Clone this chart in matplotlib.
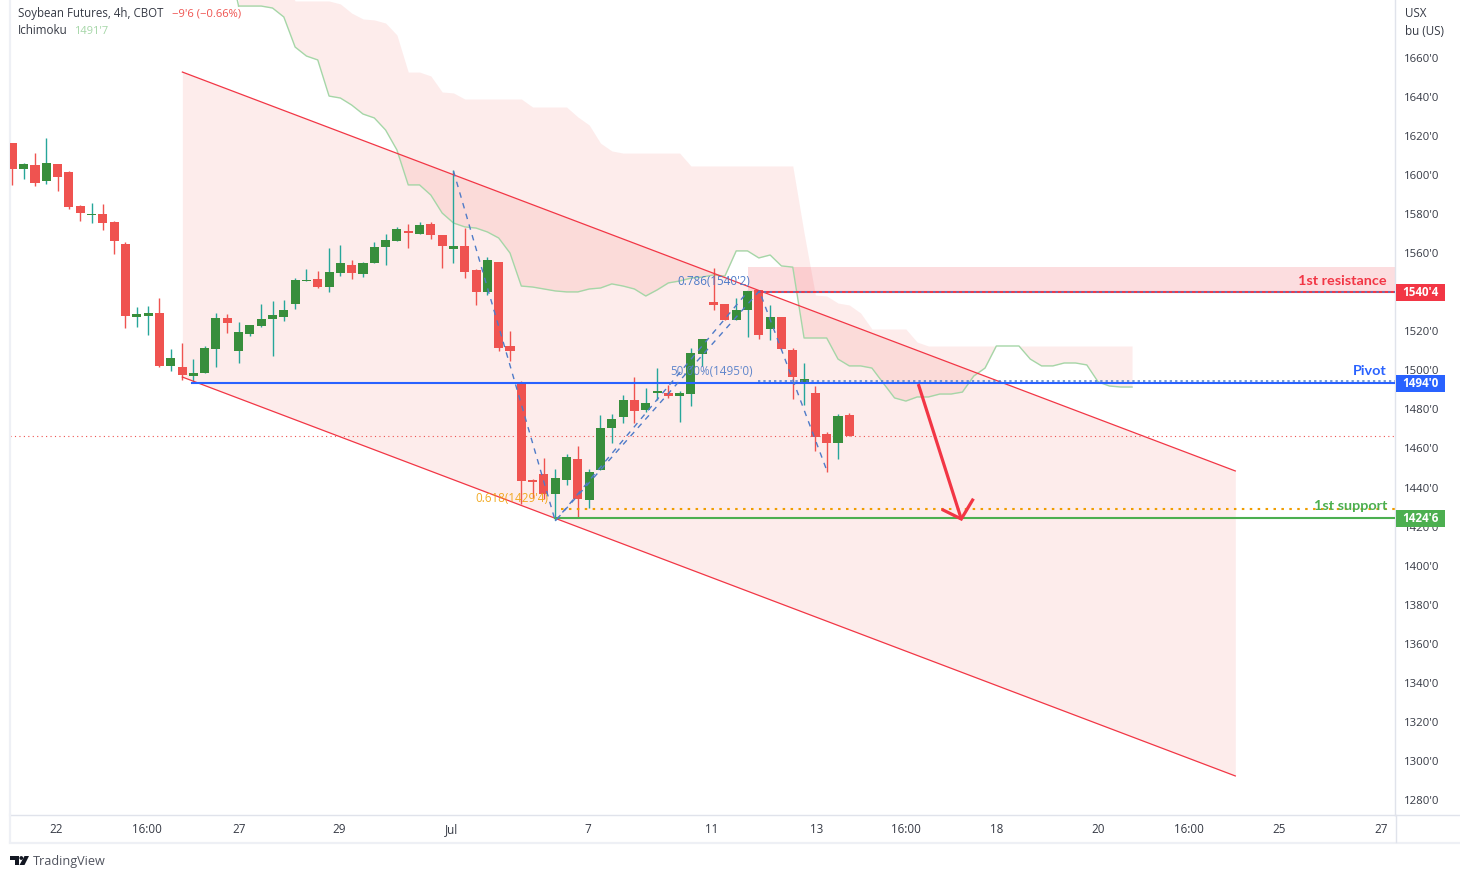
import matplotlib
matplotlib.use('Agg')
import matplotlib.pyplot as plt
from matplotlib.patches import Polygon, Circle, Rectangle
from matplotlib.transforms import blended_transform_factory, ScaledTranslation
import numpy as np

plt.rcParams['font.family'] = ['Open Sans', 'DejaVu Sans']

# candles (bar index = position in the list)
opens = [1617.0, 1603.6, 1605.7, 1597.5, 1606.2, 1602.1, 1584.7, 1580.1, 1580.6, 1576.5,
         1565.2, 1527.8, 1528.4, 1529.9, 1502.8, 1502.2, 1497.6, 1499.2, 1511.5, 1527.3,
         1510.4, 1519.1, 1523.2, 1526.8, 1527.8, 1534.5, 1546.3, 1547.3, 1543.2, 1550.4,
         1554.5, 1549.9, 1555.5, 1563.7, 1566.8, 1571.9, 1570.4, 1575.5, 1569.8, 1562.7,
         1564.2, 1551.9, 1540.7, 1556.0, 1513.0, 1494.0, 1444.4, 1447.4, 1437.2, 1444.4,
         1455.1, 1434.1, 1449.5, 1471.0, 1476.6, 1485.3, 1480.2, 1488.9, 1488.9, 1487.4,
         1488.4, 1508.9, 1535.5, 1534.5, 1526.3, 1531.4, 1541.7, 1521.7, 1527.8, 1511.0,
         1494.6, 1488.9, 1467.9, 1463.3, 1477.7]
highs = [1617.0, 1606.7, 1611.8, 1619.5, 1606.2, 1602.6, 1585.2, 1586.2, 1585.7, 1577.0,
         1566.3, 1533.0, 1533.5, 1537.6, 1511.5, 1514.5, 1506.3, 1513.0, 1529.9, 1529.4,
         1525.3, 1523.8, 1534.5, 1536.0, 1536.6, 1547.8, 1552.4, 1551.4, 1563.2, 1564.7,
         1557.0, 1556.0, 1566.3, 1570.4, 1573.9, 1575.5, 1576.5, 1576.5, 1569.8, 1603.1,
         1573.4, 1552.4, 1558.6, 1556.0, 1520.7, 1495.1, 1444.9, 1455.6, 1450.0, 1457.7,
         1461.8, 1450.0, 1477.7, 1478.2, 1487.9, 1497.1, 1491.5, 1501.7, 1493.0, 1490.0,
         1512.0, 1516.6, 1553.0, 1534.5, 1537.6, 1541.2, 1541.7, 1534.0, 1527.8, 1512.0,
         1504.3, 1492.5, 1469.0, 1478.2, 1478.7]
lows = [1595.4, 1598.5, 1594.9, 1596.0, 1592.4, 1583.2, 1577.0, 1576.0, 1572.4, 1560.1,
        1522.2, 1522.7, 1518.6, 1502.2, 1500.2, 1495.6, 1494.6, 1499.2, 1502.2, 1519.7,
        1504.3, 1518.1, 1522.7, 1507.9, 1525.8, 1532.0, 1546.3, 1542.7, 1540.7, 1548.8,
        1547.3, 1548.3, 1555.5, 1554.5, 1566.8, 1563.2, 1570.4, 1567.8, 1553.0, 1555.5,
        1547.8, 1534.0, 1539.1, 1510.4, 1505.3, 1432.1, 1435.2, 1434.6, 1423.9, 1441.8,
        1425.4, 1430.0, 1449.5, 1463.3, 1473.6, 1473.6, 1479.2, 1485.3, 1486.4, 1474.1,
        1482.3, 1502.8, 1531.4, 1526.3, 1526.3, 1517.6, 1516.6, 1516.1, 1511.5, 1485.9,
        1482.8, 1459.2, 1448.5, 1455.1, 1466.9]
closes = [1603.6, 1606.2, 1596.5, 1606.7, 1599.6, 1584.2, 1581.1, 1580.6, 1576.0, 1566.8,
          1528.4, 1529.4, 1529.9, 1502.8, 1506.8, 1498.1, 1499.2, 1512.0, 1527.3, 1524.8,
          1520.2, 1523.8, 1526.8, 1528.9, 1531.4, 1546.8, 1546.8, 1543.2, 1550.9, 1555.5,
          1550.4, 1555.5, 1563.7, 1567.3, 1572.9, 1570.9, 1575.0, 1569.8, 1564.2, 1564.2,
          1550.9, 1540.7, 1557.0, 1512.0, 1510.4, 1443.9, 1443.4, 1437.2, 1445.4, 1456.1,
          1434.6, 1448.5, 1471.0, 1475.6, 1485.3, 1479.7, 1483.8, 1490.0, 1487.4, 1488.9,
          1509.4, 1516.6, 1534.0, 1526.3, 1531.4, 1541.2, 1518.6, 1527.8, 1511.5, 1497.1,
          1496.1, 1466.4, 1463.3, 1477.1, 1466.9]

# ichimoku, bars 20 to 99
cloud_x = list(range(20, 100))
cloud_line = [1687.1, 1687.1, 1687.1, 1686.1, 1681.5, 1666.1, 1661.5, 1659.5, 1641.0, 1640.0,
              1636.4, 1631.8, 1629.8, 1623.6, 1613.4, 1595.5, 1595.5, 1590.3, 1581.1, 1576.0,
              1574.0, 1573.4, 1571.4, 1568.3, 1560.6, 1543.7, 1543.2, 1542.2, 1541.2, 1540.7,
              1540.7, 1542.2, 1542.7, 1544.8, 1543.7, 1542.2, 1538.6, 1541.7, 1545.3, 1546.3,
              1547.8, 1548.3, 1549.4, 1548.8, 1561.7, 1561.7, 1558.1, 1559.6, 1554.0, 1553.4,
              1517.1, 1517.1, 1517.1, 1506.3, 1502.8, 1502.8, 1501.7, 1494.0, 1486.4, 1484.8,
              1486.9, 1486.9, 1488.4, 1488.4, 1489.4, 1497.6, 1501.7, 1513.0, 1513.0, 1513.0,
              1506.3, 1502.8, 1502.8, 1504.3, 1504.3, 1503.3, 1494.6, 1492.5, 1492.0, 1492.0]
cloud_top = [1700.4, 1700.4, 1700.4, 1700.4, 1700.4, 1689.7, 1689.7, 1689.7, 1689.7, 1688.2,
             1683.5, 1680.5, 1680.0, 1678.4, 1672.3, 1653.3, 1653.3, 1651.3, 1643.1, 1642.6,
             1639.5, 1639.5, 1639.5, 1639.5, 1639.5, 1639.5, 1635.4, 1635.4, 1635.4, 1635.4,
             1630.3, 1626.2, 1616.9, 1612.9, 1611.8, 1611.8, 1611.8, 1611.8, 1611.8, 1611.8,
             1605.2, 1605.2, 1605.2, 1605.2, 1605.2, 1605.2, 1605.2, 1605.2, 1605.2, 1605.2,
             1570.9, 1539.1, 1538.6, 1535.0, 1534.0, 1529.9, 1521.7, 1521.7, 1521.7, 1521.7,
             1515.0, 1513.0, 1513.0, 1513.0, 1513.0, 1513.0, 1513.0, 1513.0, 1513.0, 1513.0,
             1513.0, 1513.0, 1513.0, 1513.0, 1513.0, 1513.0, 1513.0, 1513.0, 1513.0, 1513.0]

# drawings: channel, levels, zigzag, arrow
channel_x = [15.03, 108.13]
channel_upper = [1653.3, 1449.0]
channel_lower = [1497.1, 1292.8]
resistance = 1540.5
resistance_top = 1553.4
pivot = 1494.0
support = 1424.75
fib_50 = 1495.0
fib_618 = 1429.5
last_price = 1466.9
zigzag_a_x = [39.0, 48.0, 66.05, 72.06]
zigzag_a_y = [1602.6, 1423.4, 1541.2, 1448.5]
zigzag_b_x = [48.0, 65.07]
zigzag_b_y = [1423.4, 1541.2]
arrow_x = [80.1, 83.9]
arrow_y = [1493.5, 1424.4]
arrow_head_x = [82.3, 83.9, 84.9]
arrow_head_y = [1429.0, 1424.4, 1434.1]

yticks = list(range(1280, 1661, 20))
ytick_labels = [f"{v}'0" for v in yticks]
xticks = [3.9, 11.9, 20.0, 28.9, 38.8, 50.9, 61.8, 71.1, 79.0, 87.0, 96.0, 104.0, 112.0, 121.0]
xtick_labels = ['22', '16:00', '27', '29', 'Jul', '7', '11', '13', '16:00', '18', '20', '16:00', '25', '27']

UP = '#388e3c'
UP_WICK = '#26a69a'
DOWN = '#ef5350'
RED = '#f23645'
BLUE = '#2962ff'
GREEN = '#4caf50'
ORANGE = '#f09d00'
FIB_BLUE = '#4f7bc8'
TEXT = '#363a45'
BORDER = '#e0e3eb'

W, H = 1460, 877
fig = plt.figure(figsize=(W / 100, H / 100), dpi=100)
ax = fig.add_axes([10 / W, (H - 815) / H, 1385 / W, 815 / H])
ax.set_xlim(-0.212, 122.25)
ax.set_ylim(1272.8, 1690.2)

# fills
ax.fill_between(channel_x, channel_lower, channel_upper, color=DOWN, alpha=0.11, lw=0, zorder=1)
ax.fill_between(cloud_x, cloud_line, cloud_top, color=DOWN, alpha=0.11, lw=0, zorder=1)
ax.add_patch(Rectangle((65.0, resistance), 122.25 - 65.0, resistance_top - resistance,
                       color=RED, alpha=0.17, lw=0, zorder=1))

ax.plot(cloud_x, cloud_line, color='#a5d6a7', lw=1.0, zorder=2)
ax.plot([19, 20], [1713, cloud_line[0]], color='#a5d6a7', lw=1.0, zorder=2)

# last price
ax.axhline(last_price, color=DOWN, lw=0.8, ls=(0, (1, 3)), zorder=2)

# candles
idx = np.arange(len(opens))
o = np.array(opens)
c = np.array(closes)
up = c >= o
ax.vlines(idx[up], np.array(lows)[up], np.array(highs)[up], color=UP_WICK, lw=1.0, zorder=3)
ax.vlines(idx[~up], np.array(lows)[~up], np.array(highs)[~up], color=DOWN, lw=1.0, zorder=3)
ax.bar(idx[up], np.maximum(c - o, 0.5)[up], bottom=o[up], width=0.8, color=UP, zorder=4)
ax.bar(idx[~up], (o - c)[~up], bottom=c[~up], width=0.8, color=DOWN, zorder=4)

# channel borders
ax.plot(channel_x, channel_upper, color=RED, lw=0.9, zorder=5)
ax.plot(channel_x, channel_lower, color=RED, lw=0.9, zorder=5)

# levels
right = 122.25
ax.plot([65.9, right], [resistance, resistance], color=RED, lw=1.5, zorder=5)
ax.plot([65.9, right], [resistance, resistance], color=FIB_BLUE, lw=1.2, ls=(0, (1.5, 2)), zorder=6)
ax.plot([15.9, right], [pivot, pivot], color=BLUE, lw=1.5, zorder=5)
ax.plot([65.9, right], [fib_50, fib_50], color=FIB_BLUE, lw=1.1, ls=(0, (1.5, 2)), zorder=5)
ax.plot([48.0, right], [support, support], color=GREEN, lw=1.5, zorder=5)
ax.plot([48.5, right], [fib_618, fib_618], color=ORANGE, lw=1.5, ls=(0, (1.2, 2.6)), zorder=5)

# zigzag
ax.plot(zigzag_a_x, zigzag_a_y, color=FIB_BLUE, lw=1.0, ls=(0, (4, 4)), zorder=6)
ax.plot(zigzag_b_x, zigzag_b_y, color=FIB_BLUE, lw=1.0, ls=(0, (4, 4)), zorder=6)

# arrow
ax.plot(arrow_x, arrow_y, color=RED, lw=2.3, zorder=7, solid_capstyle='butt')
ax.plot(arrow_head_x, arrow_head_y, color=RED, lw=2.3, zorder=7, solid_joinstyle='miter')

# axes
ax.spines['top'].set_visible(False)
for side in ['left', 'right', 'bottom']:
    ax.spines[side].set_color(BORDER)
    ax.spines[side].set_linewidth(1.0)
ax.spines['left'].set_linewidth(1.6)
ax.spines['left'].set_color('#eef0f5')
ax.yaxis.tick_right()
ax.set_yticks(yticks)
ax.set_yticklabels(ytick_labels, fontsize=8.2, color=TEXT)
ax.set_xticks(xticks)
ax.set_xticklabels(xtick_labels, fontsize=8.4, color=TEXT)
ax.tick_params(axis='y', length=0, pad=6.5)
ax.tick_params(axis='x', length=0, pad=6)
up_1px = ScaledTranslation(0, 1 / 100, fig.dpi_scale_trans)
for lab in ax.get_yticklabels():
    lab.set_transform(lab.get_transform() + up_1px)

# fib labels
ax.text(62.0, 1545.8, "0.786(1540'2)", fontsize=8.4, color=FIB_BLUE, ha='center', va='center', zorder=8)
ax.text(61.85, 1500.0, "50.00%(1495'0)", fontsize=8.4, color=FIB_BLUE, ha='center', va='center', zorder=8, alpha=0.9)
ax.text(44.2, 1435.0, "0.618(1429'4)", fontsize=8.4, color=ORANGE, ha='center', va='center', zorder=8, alpha=0.85)

# level names
trans = blended_transform_factory(ax.transAxes, ax.transData)
name_font = ['Lato', 'DejaVu Sans']
ax.text(1377 / 1385, 1546.2, '1st resistance', fontsize=10.4, color=RED, ha='right', va='center',
        transform=trans, family=name_font, fontweight='bold', zorder=8)
ax.text(1377 / 1385, 1500.3, 'Pivot', fontsize=10.4, color=BLUE, ha='right', va='center',
        transform=trans, family=name_font, fontweight='bold', zorder=8)
ax.text(1377 / 1385, 1431.0, '1st support', fontsize=10.4, color=GREEN, ha='right', va='center',
        transform=trans, family=name_font, fontweight='bold', zorder=8)

# overlay in pixel coordinates for the chrome around the plot
ov = fig.add_axes([0, 0, 1, 1], facecolor='none')
ov.set_xlim(0, W)
ov.set_ylim(H, 0)
ov.axis('off')

for label, price, col in [("1540'4", resistance, RED), ("1494'0", pivot, BLUE), ("1424'6", support, GREEN)]:
    py = (1690.2 - price) / 0.51214
    ov.add_patch(Rectangle((1396, py - 8), 49, 16.5, color=col, lw=0, zorder=3))
    ov.text(1420.5, py + 0.3, label, fontsize=8.4, color='white', ha='center', va='center',
            fontweight='bold', zorder=4)

# frame pieces around the time axis
ov.plot([10, 1460], [842.5, 842.5], color='#eef0f5', lw=1.6)
ov.plot([1395, 1460], [815, 815], color=BORDER, lw=1.0)
ov.plot([1395.5, 1395.5], [815, 842], color=BORDER, lw=1.0)
ov.plot([10, 10], [815, 842], color='#eef0f5', lw=1.6)

ov.text(18, 14, 'Soybean Futures, 4h, CBOT', fontsize=8.3, color=TEXT, va='center')
ov.text(172, 14, "\u22129'6 (\u22120.66%)", fontsize=8.1, color=DOWN, va='center')
ov.text(18, 31, 'Ichimoku', fontsize=8.4, color=TEXT, va='center')
ov.text(74, 31, "1491'7", fontsize=8.0, color='#a5d6a7', va='center')
ov.text(1405, 13.5, 'USX', fontsize=8.4, color=TEXT, va='center')
ov.text(1405, 31.5, 'bu (US)', fontsize=8.4, color=TEXT, va='center')

# TradingView mark
ov.add_patch(Polygon([(10, 856), (19, 856), (19, 865), (15, 865), (15, 860), (10, 860)], color='#131722', lw=0))
ov.add_patch(Circle((21.3, 858), 1.9, color='#131722', lw=0))
ov.add_patch(Polygon([(24.5, 856), (29, 856), (24.5, 865), (19.5, 865)], color='#131722', lw=0))
ov.text(33, 861, 'TradingView', fontsize=9.1, color='#50535e', va='center')

fig.savefig('out.png', dpi=100)
